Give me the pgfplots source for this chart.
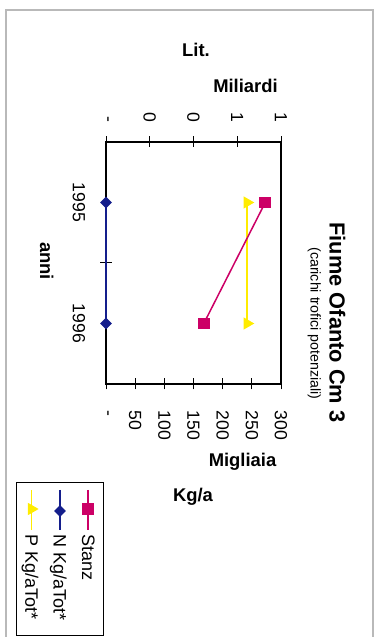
\documentclass[border=0pt]{standalone}
\usepackage{fontspec}
\setmainfont{Liberation Sans}
\usepackage{pgfplots}
\pgfplotsset{compat=1.18}
\definecolor{stanz}{RGB}{204,0,102}
\definecolor{nblue}{RGB}{20,30,140}
\definecolor{pyel}{RGB}{255,236,0}

\begin{document}
\begin{tikzpicture}
\path[use as bounding box] (0,0) rectangle (189pt,318.5pt);
\draw[gray!55, line width=0.6pt] (3pt,0pt) -- (3pt,313.5pt) -- (186.5pt,313.5pt) -- (186.5pt,0pt);

% main axis: Migliaia Kg/a (bottom), years on the left (1995 = 2, 1996 = 1)
\begin{axis}[
  at={(53pt,126.5pt)}, anchor=south west,
  width=87.5pt, height=121pt, scale only axis,
  xmin=0, xmax=300, ymin=0.5, ymax=2.5,
  clip=false,
  axis line style={line width=0.6pt},
  xtick={0,50,100,150,200,250,300},
  xticklabels={-,50,100,150,200,250,300},
  xtick pos=left, ytick pos=left,
  ytick={1.5}, yticklabels={},
  extra y ticks={1,2}, extra y tick labels={1996,1995},
  extra y tick style={major tick length=0pt},
  tick align=center, major tick length=5.5pt,
  tick style={black, line width=0.5pt},
  tick label style={font=\fontsize{8.8}{10}\selectfont},
  xticklabel style={yshift=-10.5pt, rotate=-90, anchor=west, inner sep=0pt},
  yticklabel style={xshift=-16.5pt, rotate=-90, anchor=base, inner sep=0pt},
]
% N Kg/aTot*
\addplot[nblue, line width=0.75pt, mark=square*, mark size=1.7pt, mark options={rotate=45}]
  coordinates {(0,2) (0,1)};
% P Kg/aTot*
\addplot[pyel, line width=0.75pt, mark=triangle*, mark size=2.8pt, mark options={rotate=-90}]
  coordinates {(242,2) (242,1)};
\end{axis}

% secondary axis: Lit. Miliardi (top)
\begin{axis}[
  at={(53pt,126.5pt)}, anchor=south west,
  width=87.5pt, height=121pt, scale only axis,
  xmin=0, xmax=0.8, ymin=0.5, ymax=2.5,
  clip=false, hide y axis,
  axis line style={line width=0.6pt},
  xtick={0,0.2,0.4,0.6,0.8}, xticklabels={-,0,0,1,1},
  xtick pos=right, xticklabel pos=right,
  tick align=center, major tick length=5.5pt,
  tick style={black, line width=0.5pt},
  tick label style={font=\fontsize{8.8}{10}\selectfont},
  xticklabel style={yshift=7pt, rotate=-90, anchor=east, inner sep=0pt},
]
% Stanz
\addplot[stanz, line width=0.75pt, mark=square*, mark size=2.6pt]
  coordinates {(0.728,2) (0.447,1)};
\end{axis}

% legend, drawn as a small axis whose box is the legend frame (picture-pixel units)
\begin{axis}[
  at={(8.5pt,1pt)}, anchor=south west,
  width=43pt, height=76pt, scale only axis,
  xmin=17, xmax=103, ymin=-635, ymax=-483,
  clip=false, xtick=\empty, ytick=\empty,
  axis line style={line width=0.5pt, black},
]
\addplot[stanz, line width=0.75pt, mark=square*, mark size=2.6pt, mark indices={2}]
  coordinates {(88,-490) (88,-509) (88,-530)};
\addplot[nblue, line width=0.75pt, mark=square*, mark size=1.7pt, mark options={rotate=45}, mark indices={2}]
  coordinates {(60,-490) (60,-511) (60,-530)};
\addplot[pyel, line width=0.75pt, mark=triangle*, mark size=2.8pt, mark options={rotate=-90}, mark indices={2}]
  coordinates {(31.5,-490) (31.5,-509) (31.5,-530)};
\node[rotate=-90, anchor=base west, inner sep=0pt, font=\fontsize{9}{11}\selectfont] at (axis cs:82,-534) {Stanz};
\node[rotate=-90, anchor=base west, inner sep=0pt, font=\fontsize{9}{11}\selectfont] at (axis cs:53.5,-534) {N Kg/aTot*};
\node[rotate=-90, anchor=base west, inner sep=0pt, font=\fontsize{9}{11}\selectfont] at (axis cs:25.5,-534) {P Kg/aTot*};
\end{axis}

\node[rotate=-90, anchor=base, font=\bfseries\fontsize{10.9}{13}\selectfont] at (164.75pt,157.25pt) {Fiume Ofanto Cm 3};
\node[rotate=-90, anchor=base, font=\fontsize{7.1}{9}\selectfont] at (155.25pt,156.75pt) {(carichi trofici potenziali)};
\node[rotate=-90, anchor=base, font=\bfseries\fontsize{9.2}{11}\selectfont] at (20pt,188pt) {anni};
\node[anchor=base, font=\bfseries\fontsize{9.2}{11}\selectfont] at (98pt,290pt) {Lit.};
\node[anchor=base, font=\bfseries\fontsize{9.2}{11}\selectfont] at (122.75pt,272pt) {Miliardi};
\node[anchor=base, font=\bfseries\fontsize{9.2}{11}\selectfont] at (121.25pt,85pt) {Migliaia};
\node[anchor=base, font=\bfseries\fontsize{9.2}{11}\selectfont] at (96.5pt,67.65pt) {Kg/a};
\end{tikzpicture}
\end{document}
